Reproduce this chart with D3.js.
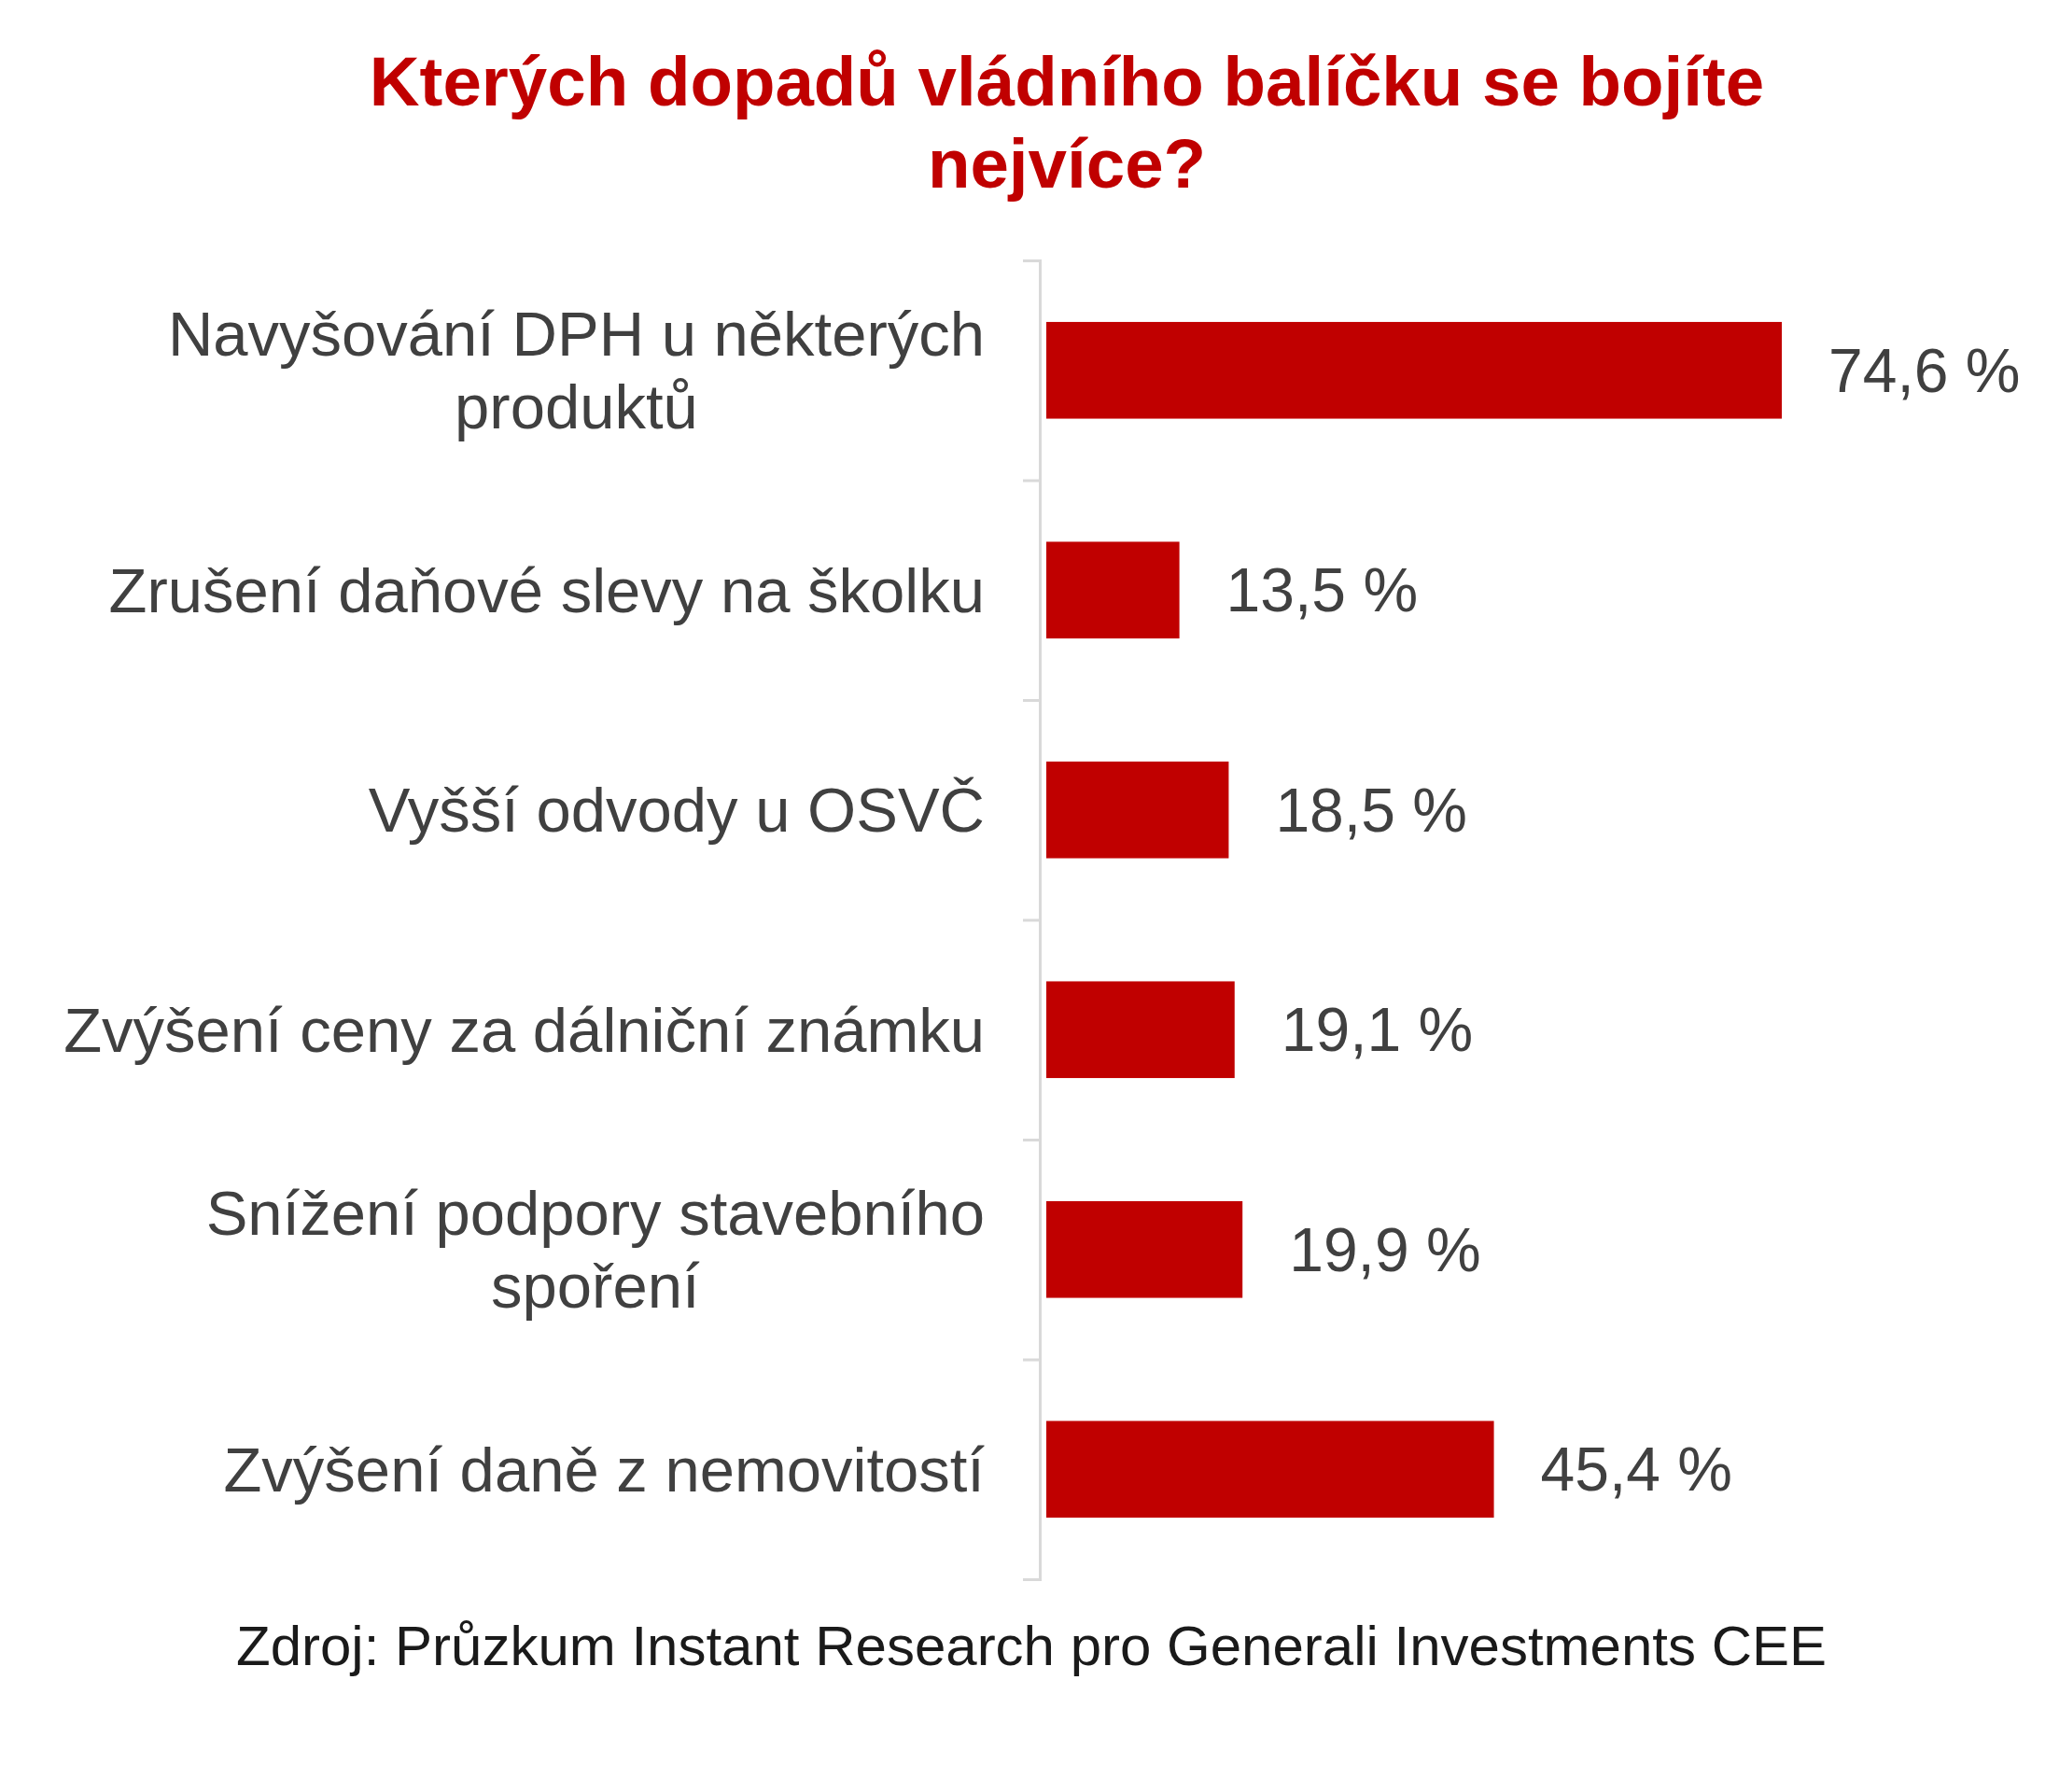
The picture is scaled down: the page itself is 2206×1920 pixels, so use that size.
<!DOCTYPE html>
<html lang="cs">

<head>
    <meta charset="UTF-8">
    <script type="text/javascript" src="https://cdn.jsdelivr.net/npm/d3@7"></script>
    <title>Kterých dopadů vládního balíčku se bojíte nejvíce?</title>
    <style>
        body { margin: 0; background: #fff; }
    </style>
</head>

<body>
    <script type="text/javascript">

        // data
        var categories = [
            "Navyšování DPH u některých\nproduktů",
            "Zrušení daňové slevy na školku",
            "Vyšší odvody u OSVČ",
            "Zvýšení ceny za dálniční známku",
            "Snížení podpory stavebního\nspoření",
            "Zvýšení daně z nemovitostí"
        ];
        var values = [74.6, 13.5, 18.5, 19.1, 19.9, 45.4];
        var valueLabels = ["74,6 %", "13,5 %", "18,5 %", "19,1 %", "19,9 %", "45,4 %"];

        var titleLines = ["Kterých dopadů vládního balíčku se bojíte", "nejvíce?"];
        var sourceText = "Zdroj: Průzkum Instant Research pro Generali Investments CEE";

        //Width and height
        var w = 2206;
        var h = 1920;
        var red = "#c00000";
        var textColor = "#404040";
        var font = "'Liberation Sans', Arial, sans-serif";

        var axisX = 1114;
        var plotTop = 279, plotBottom = 1692;

        var svg = d3.select("body")
            .append("svg")
            .attr("width", w)
            .attr("height", h);

        var xScale = d3.scaleLinear()
            .domain([0, d3.max(values)])
            .range([1121, 1909]);

        var yScale = d3.scaleBand()
            .domain(categories)
            .range([plotTop, plotBottom])
            .padding(0);

        var barH = yScale.bandwidth() * 0.44;

        // title
        svg.append("g")
            .selectAll("text")
            .data(titleLines)
            .enter()
            .append("text")
            .text(function (d) { return d; })
            .attr("x", 1143)
            .attr("y", function (d, i) { return 113 + i * 88; })
            .attr("text-anchor", "middle")
            .attr("font-family", font)
            .attr("font-weight", "bold")
            .attr("font-size", "74.5px")
            .attr("fill", red);

        // axis with ticks at the band edges
        var edgeScale = d3.scaleLinear()
            .domain([0, categories.length])
            .range([plotTop, plotBottom]);

        var axis = svg.append("g")
            .attr("transform", "translate(" + axisX + ",0)")
            .call(d3.axisLeft(edgeScale)
                .ticks(categories.length)
                .tickSize(18)
                .tickSizeOuter(18)
                .tickFormat(""));
        axis.selectAll("path, line")
            .attr("stroke", "#d9d9d9")
            .attr("stroke-width", 3);

        // bars
        svg.selectAll("rect.bar")
            .data(values)
            .enter()
            .append("rect")
            .attr("class", "bar")
            .attr("x", xScale(0))
            .attr("y", function (d, i) {
                return yScale(categories[i]) + (yScale.bandwidth() - barH) / 2;
            })
            .attr("width", function (d) { return xScale(d) - xScale(0); })
            .attr("height", barH)
            .attr("fill", red);

        // value labels
        svg.selectAll("text.value")
            .data(values)
            .enter()
            .append("text")
            .attr("class", "value")
            .text(function (d, i) { return valueLabels[i]; })
            .attr("x", function (d) { return xScale(d) + 50; })
            .attr("y", function (d, i) {
                return yScale(categories[i]) + yScale.bandwidth() / 2;
            })
            .attr("dy", "0.35em")
            .attr("font-family", font)
            .attr("font-size", "66px")
            .attr("fill", textColor);

        // category labels, centred lines, block right aligned
        var labelRight = 1055;
        var lineH = 78;
        var labels = svg.selectAll("text.cat")
            .data(categories)
            .enter()
            .append("text")
            .attr("class", "cat")
            .attr("font-family", font)
            .attr("font-size", "67px")
            .attr("fill", textColor)
            .attr("text-anchor", "middle");

        labels.each(function (d) {
            var el = d3.select(this);
            var lines = d.split("\n");
            var cy = yScale(d) + yScale.bandwidth() / 2;
            var y0 = cy - (lines.length - 1) * lineH / 2;
            lines.forEach(function (line, j) {
                el.append("tspan")
                    .text(line)
                    .attr("y", y0 + j * lineH)
                    .attr("dy", "0.35em");
            });
            var maxW = d3.max(el.selectAll("tspan").nodes(), function (n) {
                return n.getComputedTextLength();
            });
            el.selectAll("tspan").attr("x", labelRight - maxW / 2);
        });

        // source
        svg.append("text")
            .text(sourceText)
            .attr("x", 1105)
            .attr("y", 1784)
            .attr("text-anchor", "middle")
            .attr("font-family", font)
            .attr("font-size", "60px")
            .attr("fill", "#1a1a1a");
    </script>

</body>

</html>
